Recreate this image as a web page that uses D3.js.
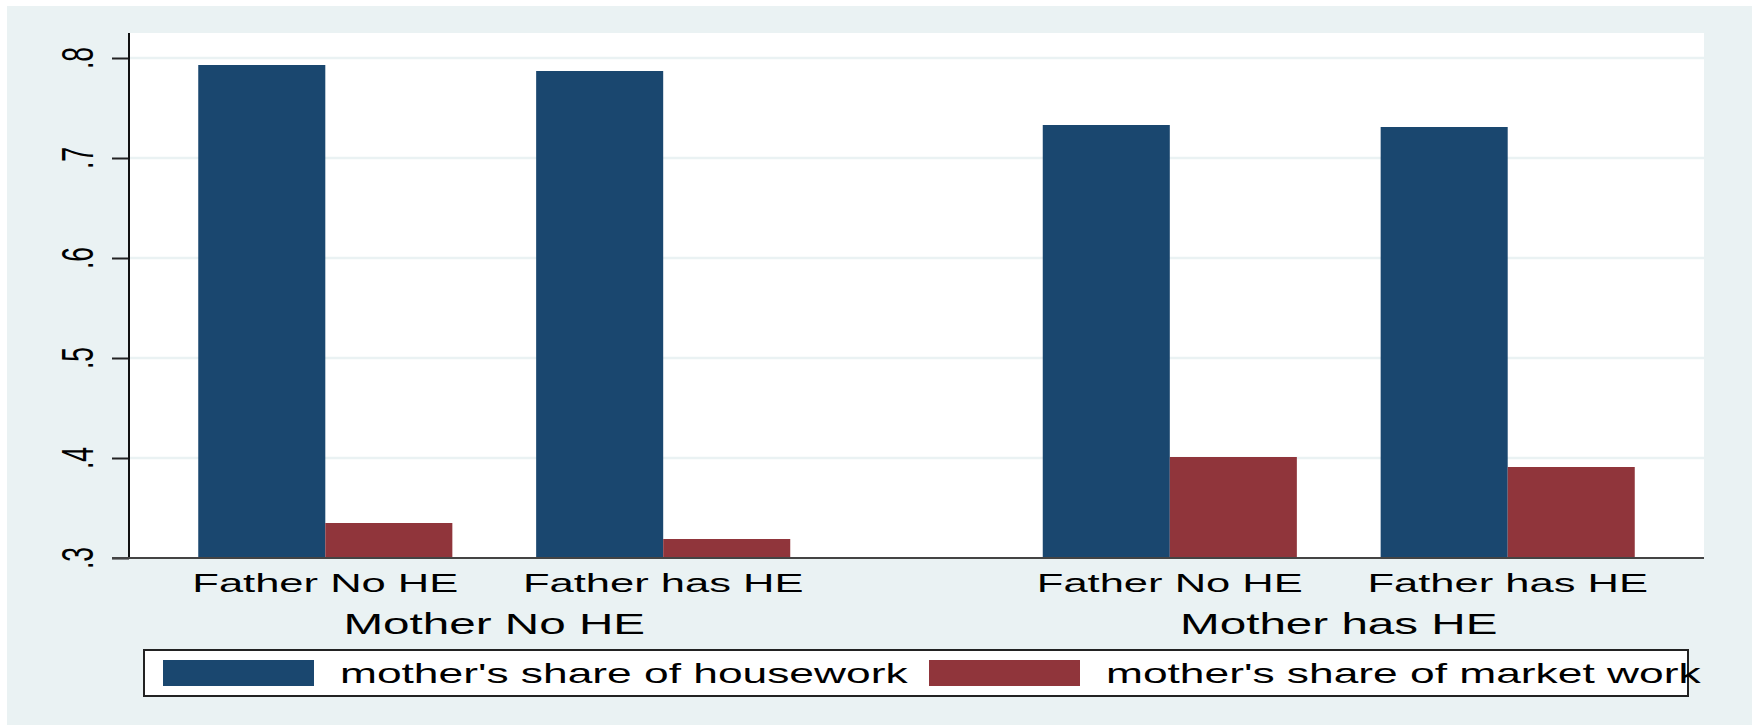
<!DOCTYPE html>
<html>
<head>
<meta charset="utf-8">
<script src="https://cdn.jsdelivr.net/npm/d3@7"></script>
<style>
  body { margin: 0; background: #fff; }
  svg { display: block; font-family: "Liberation Sans", Arial, sans-serif; }
</style>
</head>
<body>
<svg></svg>
<script>
// outer groups (mother) and inner categories (father)
const motherGroups = ["Mother No HE", "Mother has HE"];
const fatherCats = ["Father No HE", "Father has HE"];
const seriesNames = ["mother's share of housework", "mother's share of market work"];

// one value per mother x father cell, in order
const housework = [0.793, 0.787, 0.733, 0.731];
const marketWork = [0.335, 0.319, 0.401, 0.391];

const yTicks = [0.3, 0.4, 0.5, 0.6, 0.7, 0.8];
const yTickLabels = [".3", ".4", ".5", ".6", ".7", ".8"];

var svgWidth = 1752,
    svgHeight = 725;
var plot = { left: 129, right: 1704, top: 33, bottom: 558 };
var sx = 1.642; // the picture is stretched sideways
var colors = ["#1A476F", "#90353B"];

var svg = d3.select("svg")
    .attr("width", svgWidth)
    .attr("height", svgHeight);

// background + plot region
svg.append("rect")
    .attr("x", 7).attr("y", 6)
    .attr("width", svgWidth - 7).attr("height", svgHeight - 6)
    .attr("fill", "#EAF2F3");
svg.append("rect")
    .attr("x", plot.left).attr("y", plot.top)
    .attr("width", plot.right - plot.left).attr("height", plot.bottom - plot.top)
    .attr("fill", "#fff");

var x0 = d3.scaleBand()
    .domain(motherGroups)
    .range([plot.left, plot.right])
    .paddingInner(0.299)
    .paddingOuter(0.082);

var x1 = d3.scaleBand()
    .domain(fatherCats)
    .range([0, x0.bandwidth()])
    .paddingInner(0.248)
    .paddingOuter(0);

var x2 = d3.scaleBand()
    .domain(seriesNames)
    .range([0, x1.bandwidth()]);

var y = d3.scaleLinear()
    .domain([0.3, 0.8])
    .range([plot.bottom, 58]);

// build rows from the arrays
var rows = [];
motherGroups.forEach(function(m, i) {
    fatherCats.forEach(function(f, j) {
        var k = i * fatherCats.length + j;
        rows.push({ mother: m, father: f, values: [housework[k], marketWork[k]] });
    });
});

// gridlines
svg.append("g")
    .selectAll("line")
    .data(yTicks.slice(1))
    .join("line")
    .attr("x1", plot.left).attr("x2", plot.right)
    .attr("y1", d => y(d)).attr("y2", d => y(d))
    .attr("stroke", "#EAF2F3")
    .attr("stroke-width", 2.5);

// bars
var cell = svg.append("g")
    .selectAll("g")
    .data(rows)
    .join("g")
    .attr("transform", d => "translate(" + (x0(d.mother) + x1(d.father)) + ",0)");

cell.selectAll("rect")
    .data(d => d.values.map((v, s) => ({ series: seriesNames[s], value: v, s: s })))
    .join("rect")
    .attr("x", d => x2(d.series))
    .attr("width", x2.bandwidth())
    .attr("y", d => y(d.value))
    .attr("height", d => y(0.3) - y(d.value))
    .attr("fill", d => colors[d.s]);

// y axis
var yAxis = d3.axisLeft(y)
    .tickValues(yTicks)
    .tickSize(17)
    .tickFormat("");
var ya = svg.append("g")
    .attr("transform", "translate(" + plot.left + ",0)")
    .call(yAxis);
ya.select(".domain").remove();
ya.selectAll(".tick line").attr("stroke", "#222").attr("stroke-width", 2);
svg.append("line")
    .attr("x1", plot.left).attr("x2", plot.left)
    .attr("y1", plot.top).attr("y2", plot.bottom)
    .attr("stroke", "#111").attr("stroke-width", 2);

// y tick labels, rotated and stretched
svg.append("g")
    .selectAll("text")
    .data(yTicks)
    .join("text")
    .attr("transform", d => "translate(93," + y(d) + ") scale(" + sx + ",1) rotate(-90)")
    .attr("text-anchor", "middle")
    .attr("font-size", 26.5)
    .attr("fill", "#000")
    .text((d, i) => yTickLabels[i]);

// x axis line
svg.append("line")
    .attr("x1", plot.left - 17).attr("x2", plot.right)
    .attr("y1", plot.bottom).attr("y2", plot.bottom)
    .attr("stroke", "#444").attr("stroke-width", 2);

// inner labels
svg.append("g")
    .selectAll("text")
    .data(rows)
    .join("text")
    .attr("transform", d => "translate(" + (x0(d.mother) + x1(d.father) + x1.bandwidth() / 2) + ",592) scale(" + sx + ",1)")
    .attr("text-anchor", "middle")
    .attr("font-size", 26.5)
    .text(d => d.father);

// outer labels
svg.append("g")
    .selectAll("text")
    .data(motherGroups)
    .join("text")
    .attr("transform", d => "translate(" + (x0(d) + x0.bandwidth() / 2) + ",634) scale(" + sx + ",1)")
    .attr("text-anchor", "middle")
    .attr("font-size", 29)
    .text(d => d);

// legend
var legend = svg.append("g");
legend.append("rect")
    .attr("x", 144).attr("y", 650)
    .attr("width", 1688 - 144).attr("height", 46)
    .attr("fill", "#fff")
    .attr("stroke", "#222").attr("stroke-width", 2);

var keyX = [163, 929];
var item = legend.selectAll("g")
    .data(seriesNames)
    .join("g")
    .attr("transform", (d, i) => "translate(" + keyX[i] + ",0)");
item.append("rect")
    .attr("x", 0).attr("y", 660)
    .attr("width", 151).attr("height", 26)
    .attr("fill", (d, i) => colors[i]);
item.append("text")
    .attr("transform", "translate(177,683) scale(" + sx + ",1)")
    .attr("font-size", 27)
    .text(d => d);
</script>
</body>
</html>
